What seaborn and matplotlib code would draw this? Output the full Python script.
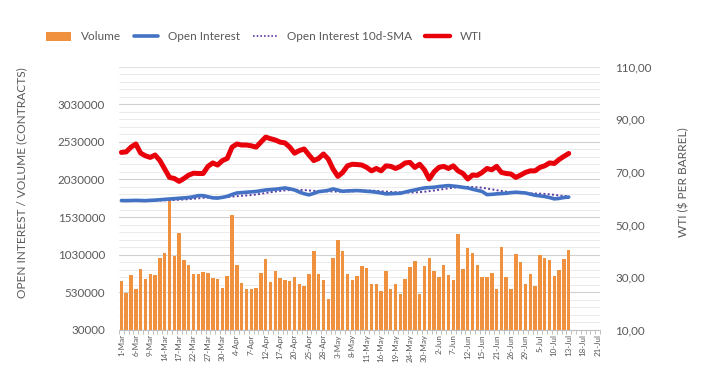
import matplotlib
matplotlib.use("Agg")
import matplotlib.pyplot as plt
import seaborn as sns
import numpy as np
import pandas as pd
from matplotlib.lines import Line2D
from matplotlib.patches import Patch
from matplotlib.ticker import FixedLocator, FuncFormatter

# ---- categories: trading days 1-Mar .. 21-Jul (2023) ----
dates = pd.bdate_range("2023-03-01", "2023-07-21", freq="C",
                       holidays=["2023-05-29", "2023-06-19", "2023-07-04"])
date_labels = [f"{d.day}-{d.strftime('%b')}" for d in dates]

# ---- data ----
volume = [678000, 524000, 757000, 581000, 837000, 705000, 771000, 757000, 987000, 1053000,
          1750000, 1013000, 1322000, 956000, 890000, 771000, 771000, 806000, 793000, 727000,
          713000, 594000, 744000, 1551000, 890000, 660000, 581000, 581000, 594000, 788000,
          969000, 669000, 810000, 722000, 691000, 678000, 735000, 638000, 612000, 771000,
          1079000, 771000, 691000, 436000, 987000, 1220000, 1079000, 771000, 691000, 744000,
          877000, 859000, 647000, 647000, 550000, 810000, 568000, 647000, 502000, 705000,
          868000, 943000, 502000, 877000, 987000, 810000, 735000, 890000, 757000, 700000,
          1309000, 837000, 1119000, 1053000, 890000, 731000, 731000, 793000, 581000, 1132000,
          731000, 581000, 1035000, 934000, 638000, 780000, 616000, 1022000, 987000, 956000,
          744000, 824000, 969000, 1097000]

open_interest = [1750000, 1748000, 1750000, 1752000, 1750000, 1748000, 1752000, 1755000, 1760000, 1765000,
                 1770000, 1775000, 1780000, 1785000, 1790000, 1800000, 1815000, 1815000, 1800000, 1785000,
                 1782000, 1792000, 1805000, 1830000, 1850000, 1855000, 1860000, 1865000, 1870000, 1880000,
                 1890000, 1895000, 1900000, 1908000, 1917000, 1905000, 1890000, 1862000, 1840000, 1825000,
                 1845000, 1868000, 1875000, 1885000, 1904000, 1888000, 1873000, 1878000, 1880000, 1882000,
                 1878000, 1872000, 1868000, 1860000, 1850000, 1838000, 1840000, 1843000, 1846000, 1862000,
                 1878000, 1890000, 1905000, 1917000, 1922000, 1926000, 1935000, 1942000, 1948000, 1942000,
                 1935000, 1925000, 1917000, 1900000, 1885000, 1870000, 1828000, 1832000, 1838000, 1842000,
                 1846000, 1855000, 1860000, 1855000, 1850000, 1835000, 1820000, 1812000, 1803000, 1790000,
                 1772000, 1778000, 1790000, 1795000]

wti = [77.4, 77.6, 79.4, 80.6, 77.1, 76.1, 75.5, 76.4, 74.3, 71.1,
       67.9, 67.5, 66.4, 67.5, 68.8, 69.5, 69.4, 69.4, 72.1, 73.4,
       72.6, 74.3, 75.1, 79.4, 80.6, 80.2, 80.2, 79.9, 79.4, 81.3,
       83.2, 82.6, 82.1, 81.3, 81.0, 79.4, 77.1, 78.1, 78.7, 76.4,
       74.3, 75.1, 76.8, 74.9, 71.1, 68.3, 69.8, 72.3, 72.9, 72.8,
       72.6, 71.7, 70.4, 71.3, 70.4, 72.3, 72.1, 71.3, 72.1, 73.4,
       73.6, 71.7, 72.9, 70.8, 67.3, 70.0, 71.7, 72.1, 71.3, 72.3,
       70.4, 69.4, 67.3, 68.8, 68.7, 69.8, 71.3, 70.8, 72.1, 69.8,
       69.4, 69.2, 67.9, 68.8, 69.8, 70.4, 70.4, 71.7, 72.3, 73.4,
       73.2, 74.7, 75.9, 77.0]

n = len(volume)
df = pd.DataFrame({"date": date_labels[:n], "pos": np.arange(n),
                   "volume": volume, "oi": open_interest, "wti": wti})
df["oi_sma"] = df["oi"].rolling(10, min_periods=1).mean()

# ---- styling ----
GRAY = "#595959"
ORANGE = "#F0913F"
BLUE = "#4472C4"
RED = "#E8000B"
PURPLE = "#5B3C9E"
FONT = ["Lato", "DejaVu Sans"]

sns.set_theme(style="white")
plt.rcParams["font.family"] = FONT

W, H = 716, 374
fig = plt.figure(figsize=(W / 100, H / 100), dpi=100)
left, right, top, bottom = 119, 600, 66.5, 330
ax = fig.add_axes([left / W, 1 - bottom / H, (right - left) / W, (bottom - top) / H])

sns.barplot(data=df, x="date", y="volume", order=date_labels, color=ORANGE,
            saturation=1, width=0.72, linewidth=0, edgecolor="none", ax=ax, zorder=2)
sns.lineplot(x=df["pos"], y=df["oi"], color=BLUE, lw=2.6, ax=ax, zorder=4)
sns.lineplot(x=df["pos"], y=df["oi_sma"], color=PURPLE, lw=1.4, ax=ax, zorder=3,
             linestyle=(0, (1, 1.2)))

ax.set_xlim(-0.5, len(date_labels) - 0.5)
ax.set_ylim(30000, 3530000)
major = np.arange(30000, 3030001, 500000)
ax.yaxis.set_major_locator(FixedLocator(major))
ax.yaxis.set_minor_locator(FixedLocator(np.arange(30000, 3530001, 100000)))
ax.set_yticklabels([str(int(v)) for v in major])
ax.grid(True, axis="y", which="major", color="#D0D0D0", lw=0.8, zorder=0)
ax.grid(True, axis="y", which="minor", color="#E8E8E8", lw=0.6, zorder=0)
ax.axhline(3530000, color="#D0D0D0", lw=0.8, zorder=0)
ax.set_axisbelow(True)

ax.set_xticks(np.arange(0, len(date_labels), 3))
ax.set_xticklabels(date_labels[::3], rotation=90, fontsize=5.8, color=GRAY)
ax.xaxis.set_minor_locator(FixedLocator(np.arange(-0.5, len(date_labels), 1)))
ax.tick_params(axis="x", which="major", length=0, pad=3)
ax.tick_params(axis="x", which="minor", length=3, color="#BFBFBF", width=0.7, bottom=True)
ax.tick_params(axis="y", which="both", length=0, labelsize=8.4, labelcolor=GRAY, pad=10)
ax.set_xlabel("")
ax.set_ylabel("")
for s in ["top", "right", "left"]:
    ax.spines[s].set_visible(False)
ax.spines["bottom"].set_color("#BFBFBF")
ax.spines["bottom"].set_linewidth(0.8)

ax2 = ax.twinx()
sns.lineplot(x=df["pos"], y=df["wti"], color=RED, lw=3.6, ax=ax2, zorder=5)
ax2.set_ylim(10, 110)
ax2.set_yticks(np.arange(10, 111, 20))
ax2.yaxis.set_major_formatter(FuncFormatter(lambda v, p: f"{v:.2f}".replace(".", ",")))
ax2.tick_params(axis="y", length=0, labelsize=8.4, labelcolor=GRAY, pad=11)
ax2.set_ylabel("")
for s in ax2.spines.values():
    s.set_visible(False)
ax2.grid(False)

fig.text(22 / W, 1 - 183 / H, "OPEN INTEREST / VOLUME (CONTRACTS)", rotation=90,
         ha="center", va="center", fontsize=8.6, color=GRAY)
fig.text(684 / W, 1 - 182 / H, "WTI ($ PER BARREL)", rotation=90,
         ha="center", va="center", fontsize=8.6, color=GRAY)

handles = [Patch(facecolor=ORANGE, edgecolor="none"),
           Line2D([], [], color=BLUE, lw=2.6),
           Line2D([], [], color=PURPLE, lw=1.2, linestyle=(0, (1, 1.2))),
           Line2D([], [], color=RED, lw=3.2)]
labels = ["Volume", "Open Interest", "Open Interest 10d-SMA", "WTI"]
fig.legend(handles, labels, loc="center", bbox_to_anchor=(264 / W, 1 - 37 / H),
           ncol=4, frameon=False, fontsize=8.5, handlelength=2.1, handleheight=0.8,
           handletextpad=0.8, columnspacing=1.1, labelcolor=GRAY)

fig.savefig("out.png", dpi=100)
